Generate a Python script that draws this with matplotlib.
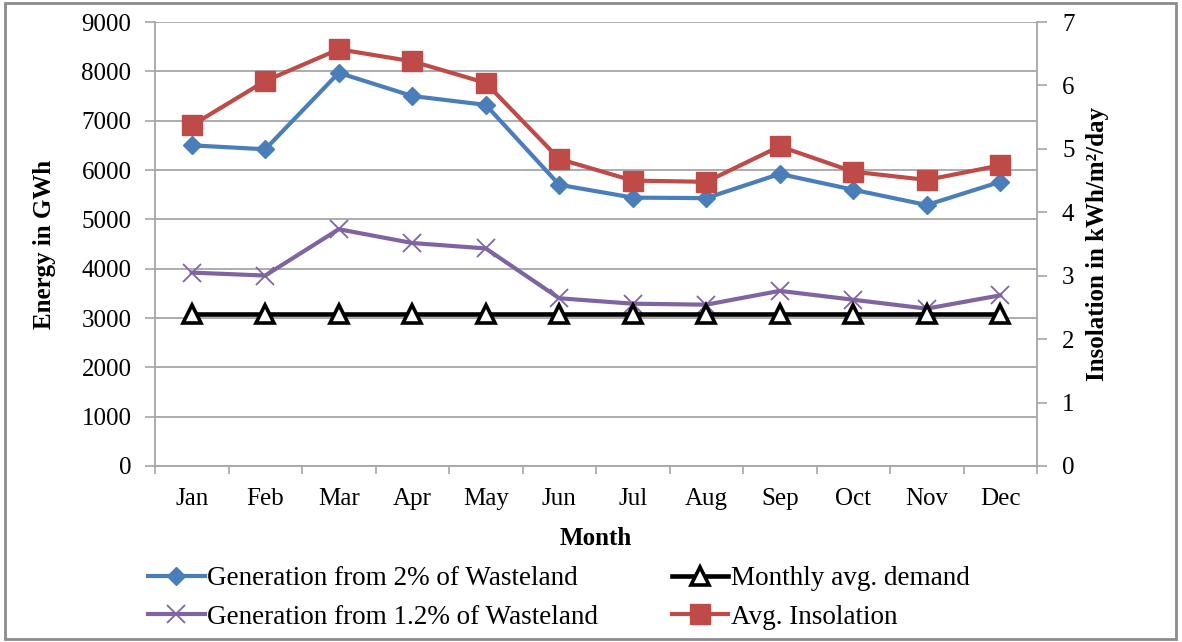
import numpy as np
import matplotlib.pyplot as plt
from matplotlib.patches import Rectangle
from matplotlib.ticker import MultipleLocator, FixedLocator, NullFormatter

plt.rcParams['font.family'] = ['Liberation Serif', 'DejaVu Serif']

# -----------------------
# Monthly data
# -----------------------
months = ["Jan", "Feb", "Mar", "Apr", "May", "Jun",
          "Jul", "Aug", "Sep", "Oct", "Nov", "Dec"]
gen_2pct = [6500, 6420, 7970, 7500, 7320, 5700,
            5440, 5430, 5920, 5600, 5290, 5760]
gen_1_2pct = [3920, 3860, 4800, 4520, 4410, 3400,
              3290, 3270, 3550, 3370, 3190, 3460]
demand = [3080] * 12
insolation = [5.37, 6.07, 6.57, 6.38, 6.04, 4.84,
              4.50, 4.48, 5.04, 4.64, 4.51, 4.74]

BLUE = "#4A7EBB"
PURPLE = "#8064A2"
RED = "#BE4B48"
GRID = "#A6A6A6"
FS = 18

W, H = 1182, 642
fig = plt.figure(figsize=(W / 100, H / 100), dpi=100)

# frame around the whole chart
fig.add_artist(Rectangle((5 / W, 3 / H), 1171 / W, 636 / H, transform=fig.transFigure,
                         fill=False, edgecolor="#8C8C8C", linewidth=2))

ax = fig.add_axes([155 / W, (H - 466) / H, (1037 - 155) / W, (466 - 22) / H])
x = np.arange(len(months))

ax.plot(x, gen_2pct, color=BLUE, lw=3, marker="D", ms=9.5, zorder=4,
        label="Generation from 2% of Wasteland")
ax.plot(x, gen_1_2pct, color=PURPLE, lw=3, marker="x", ms=13, mew=1.3, zorder=3,
        label="Generation from 1.2% of Wasteland")
ax.plot(x, demand, color="black", lw=3.3, marker="^", ms=12.5, mfc="white", mec="black",
        mew=2.6, zorder=3, label="Monthly avg. demand")

ax.set_xlim(-0.5, len(months) - 0.5)
ax.set_ylim(0, 9000)
ax.yaxis.set_major_locator(MultipleLocator(1000))
ax.set_xticks(x)
ax.set_xticklabels(months)
ax.xaxis.set_minor_locator(FixedLocator(np.arange(-0.5, len(months), 1.0)))
ax.xaxis.set_minor_formatter(NullFormatter())
ax.tick_params(axis="x", which="major", length=0, pad=16, labelsize=FS)
ax.tick_params(axis="x", which="minor", length=6, color=GRID, width=1.2)
ax.tick_params(axis="y", length=7, color=GRID, width=1.2, labelsize=FS, pad=10)
ax.grid(axis="y", color=GRID, lw=1.3)
ax.set_axisbelow(True)
for side in ("top", "right"):
    ax.spines[side].set_visible(False)
for side in ("left", "bottom"):
    ax.spines[side].set_color(GRID)
    ax.spines[side].set_linewidth(1.3)

ax.set_ylabel("Energy in GWh", fontsize=FS, fontweight="bold", labelpad=18)
ax.set_xlabel("Month", fontsize=FS, fontweight="bold", labelpad=12)

# right axis: insolation
ax2 = ax.twinx()
ax2.plot(x, insolation, color=RED, lw=3, marker="s", ms=14, zorder=3,
         label="Avg. Insolation")
ax2.set_ylim(0, 7)
ax2.yaxis.set_major_locator(MultipleLocator(1))
ax2.tick_params(axis="y", length=7, color=GRID, width=1.2, labelsize=FS, pad=11)
for side in ("top", "left", "bottom"):
    ax2.spines[side].set_visible(False)
ax2.spines["right"].set_color(GRID)
ax2.spines["right"].set_linewidth(1.3)
ax2.set_ylabel("Insolation in kWh/m²/day", fontsize=FS, fontweight="bold", labelpad=8)

h1, l1 = ax.get_legend_handles_labels()
h2, l2 = ax2.get_legend_handles_labels()
fig.legend(h1 + h2, l1 + l2, ncol=2, frameon=False, fontsize=19.5,
           loc="center left", bbox_to_anchor=(137 / W, (H - 598) / H),
           handlelength=2.1, handletextpad=0.1, columnspacing=2.7,
           labelspacing=0.5, borderaxespad=0)

fig.savefig("out.png", dpi=100)
